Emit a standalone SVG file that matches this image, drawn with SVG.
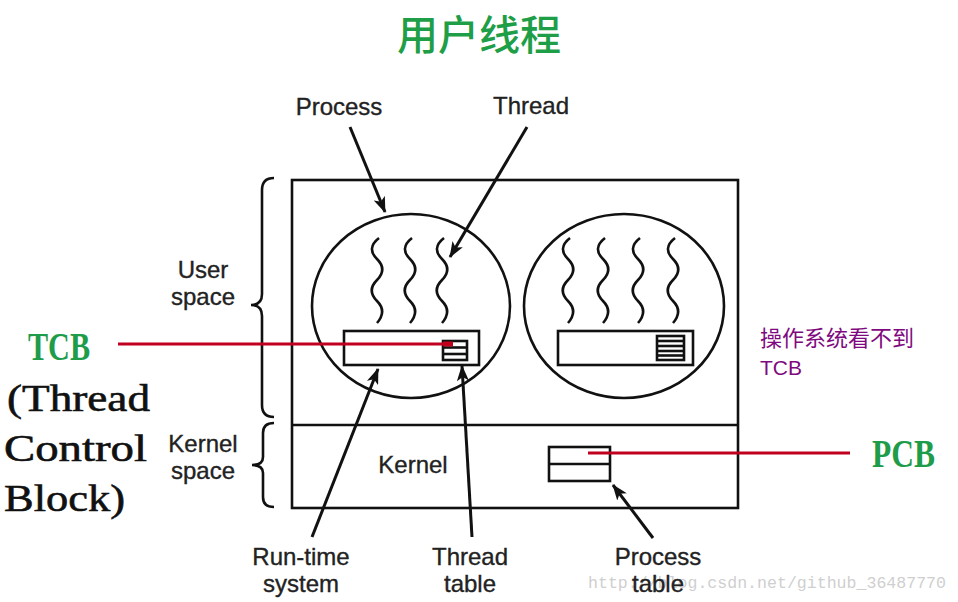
<svg xmlns="http://www.w3.org/2000/svg" xmlns:xlink="http://www.w3.org/1999/xlink" width="958" height="602" viewBox="0 0 958 602">
<style>
.ln{fill:none;stroke:#111;stroke-width:2.6}
.bx{fill:#fff;stroke:#111;stroke-width:2.6}
.lbl{font-family:"Liberation Sans",Arial,sans-serif;font-size:24px;fill:#222;stroke:#222;stroke-width:0.35;text-anchor:middle}
.big{font-family:"Liberation Serif","Times New Roman",serif;font-size:38px;fill:#111;stroke:#111;stroke-width:0.6}
.grn{font-family:"Liberation Serif","Times New Roman",serif;font-size:40px;font-weight:bold;fill:#1e9c4a}
.red{fill:none;stroke:#c0001e;stroke-width:3}
.arr{fill:none;stroke:#111;stroke-width:3;marker-end:url(#ah)}
</style>
<defs>
<marker id="ah" markerUnits="userSpaceOnUse" markerWidth="16" markerHeight="12" refX="15" refY="6" orient="auto">
<path d="M0,0 L16,6 L0,12 L4,6 Z" fill="#111"/>
</marker>
<path id="wave" d="M2 0 C-7 7 -7 14 0 21 S7 35 0 42 S-7 56 0 63 S7 77 0 85" fill="none" stroke="#111" stroke-width="2.6"/>
</defs>
<rect width="958" height="602" fill="#fff"/>

<g id="watermark">
<text x="588" y="588" font-family="'Liberation Mono',monospace" font-size="16" fill="#cfcfcf" textLength="358" lengthAdjust="spacingAndGlyphs">http://blog.csdn.net/github_36487770</text>
</g>

<g id="title">
<text x="479" y="50" font-family="'Noto Sans CJK SC',sans-serif" font-size="41" font-weight="500" fill="#1f9e48" text-anchor="middle">用户线程</text>
</g>

<g id="outer-box">
<rect class="ln" x="292" y="180" width="446" height="328"/>
<line class="ln" x1="292" y1="425" x2="738" y2="425"/>
</g>

<g id="process-left">
<ellipse class="ln" cx="411" cy="306" rx="99" ry="92"/>
<use xlink:href="#wave" x="377" y="238"/>
<use xlink:href="#wave" x="410" y="238"/>
<use xlink:href="#wave" x="442" y="238"/>
</g>

<g id="runtime-left">
<rect class="bx" x="344" y="331" width="135" height="34"/>
</g>
<g id="thread-table-left">
<rect class="bx" x="443" y="341" width="24" height="19"/>
<line class="ln" x1="443" y1="347.5" x2="467" y2="347.5"/>
<line class="ln" x1="443" y1="354" x2="467" y2="354"/>
</g>

<g id="process-right">
<ellipse class="ln" cx="624" cy="306" rx="100" ry="92"/>
<use xlink:href="#wave" x="568" y="238"/>
<use xlink:href="#wave" x="603" y="238"/>
<use xlink:href="#wave" x="638" y="238"/>
<use xlink:href="#wave" x="673" y="238"/>
</g>
<g id="runtime-right">
<rect class="bx" x="558" y="331" width="135" height="34"/>
</g>
<g id="thread-table-right">
<rect class="bx" x="657" y="336" width="27" height="24"/>
<line class="ln" x1="657" y1="341" x2="684" y2="341"/>
<line class="ln" x1="657" y1="346" x2="684" y2="346"/>
<line class="ln" x1="657" y1="351" x2="684" y2="351"/>
<line class="ln" x1="657" y1="355.5" x2="684" y2="355.5"/>
</g>

<g id="kernel">
<text class="lbl" x="413" y="473">Kernel</text>
</g>
<g id="process-table">
<rect class="bx" x="549" y="447" width="61" height="34"/>
<line class="ln" x1="549" y1="464" x2="610" y2="464"/>
</g>

<g id="braces">
<path class="ln" stroke-width="2" d="M274 178 Q262 178 262 190 L262 294 Q262 305 251 305 Q262 305 262 316 L262 405 Q262 417 274 417"/>
<path class="ln" stroke-width="2" d="M274 423 Q263 423 263 433 L263 457 Q263 465 252 465 Q263 465 263 473 L263 497 Q263 507 274 507"/>
</g>

<g id="labels">
<text class="lbl" x="339" y="115">Process</text>
<text class="lbl" x="531" y="114">Thread</text>
<text class="lbl" x="203" y="278">User</text>
<text class="lbl" x="203" y="305">space</text>
<text class="lbl" x="203" y="452">Kernel</text>
<text class="lbl" x="203" y="479">space</text>
<text class="lbl" x="301" y="565">Run-time</text>
<text class="lbl" x="301" y="592">system</text>
<text class="lbl" x="470" y="565">Thread</text>
<text class="lbl" x="470" y="592">table</text>
<text class="lbl" x="658" y="565">Process</text>
<text class="lbl" x="658" y="592">table</text>
</g>

<g id="tcb-note">
<text class="grn" x="28" y="360" textLength="62" lengthAdjust="spacingAndGlyphs">TCB</text>
<text class="big" x="7" y="411" textLength="143" lengthAdjust="spacingAndGlyphs">(Thread</text>
<text class="big" x="4" y="461" textLength="143" lengthAdjust="spacingAndGlyphs">Control</text>
<text class="big" x="4" y="511" textLength="121" lengthAdjust="spacingAndGlyphs">Block)</text>
</g>

<g id="os-note">
<text x="760" y="346" font-family="'Liberation Sans','Noto Sans CJK SC',sans-serif" font-size="22" fill="#7f0a80">操作系统看不到</text>
<text x="760" y="375" font-family="'Liberation Sans',sans-serif" font-size="21" fill="#7f0a80">TCB</text>
</g>

<g id="pcb-note">
<text class="grn" x="872" y="467" textLength="63" lengthAdjust="spacingAndGlyphs">PCB</text>
</g>

<g id="connectors">
<line class="arr" x1="350" y1="127" x2="385" y2="212"/>
<line class="arr" x1="527" y1="127" x2="450" y2="257"/>
<line class="arr" x1="312" y1="537" x2="378" y2="369"/>
<line class="arr" x1="472" y1="537" x2="462" y2="366"/>
<line class="arr" x1="653" y1="538" x2="613" y2="485"/>
<line class="red" x1="118" y1="344" x2="452" y2="344"/>
<rect x="443" y="341.5" width="10" height="5" fill="#c0001e"/>
<line class="red" x1="588" y1="453" x2="850" y2="453"/>
</g>
</svg>
